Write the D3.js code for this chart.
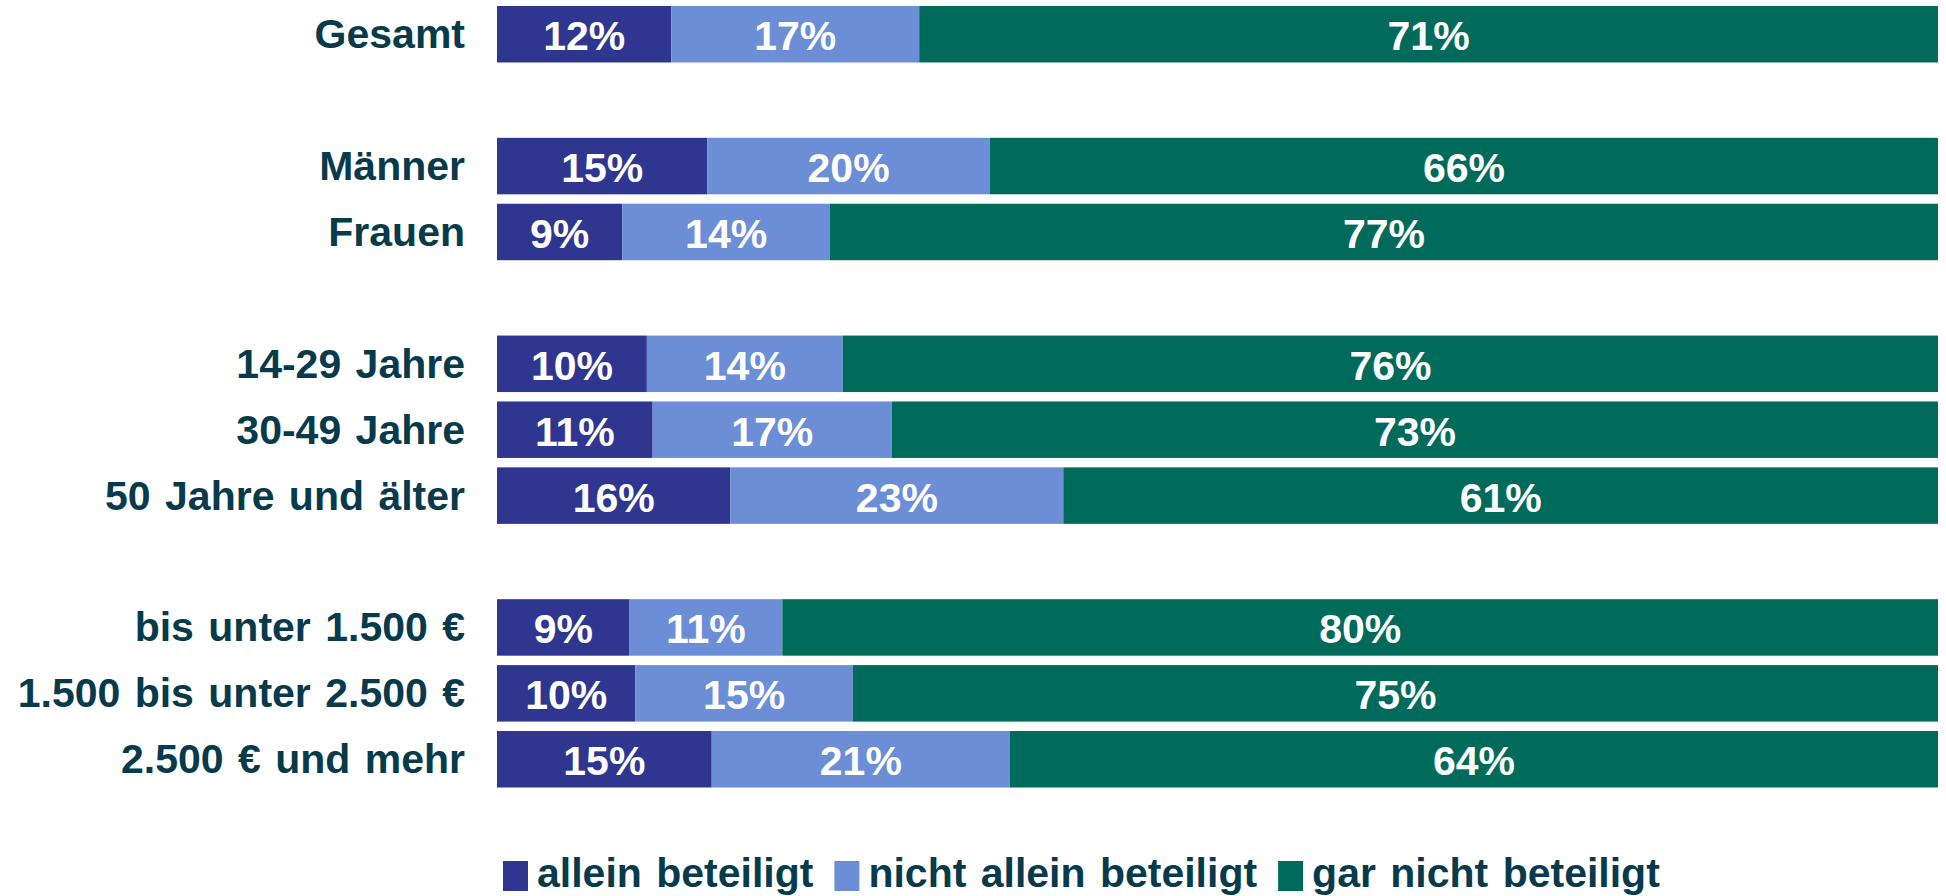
<!DOCTYPE html>
<html>
<head>
<meta charset="utf-8">
<script src="https://cdn.jsdelivr.net/npm/d3@7"></script>
<style>
  body { margin: 0; background: #fff; }
  text { font-family: "Liberation Sans", Arial, sans-serif; font-weight: bold; word-spacing: 3px; }
</style>
</head>
<body>
<div id="chart"></div>
<script>
// ----- data ----- //
var categories = ["Gesamt", "", "Männer", "Frauen", " ", "14-29 Jahre", "30-49 Jahre", "50 Jahre und älter", "  ",
    "bis unter 1.500 €", "1.500 bis unter 2.500 €", "2.500 € und mehr"]

var series = ["allein beteiligt", "nicht allein beteiligt", "gar nicht beteiligt"]
var colors = ["#2e368f", "#6b8ed6", "#006b5b"]

// null = empty spacer row
var allein      = [12.1, null, 14.6, 8.7, null, 10.4, 10.8, 16.2, null, 9.2, 9.6, 14.9]
var nichtAllein = [17.2, null, 19.6, 14.4, null, 13.6, 16.6, 23.1, null, 10.6, 15.1, 20.7]
var garNicht    = [70.7, null, 65.8, 76.9, null, 76.0, 72.6, 60.7, null, 80.2, 75.3, 64.4]

var W = 1946, H = 896
var FS = "41px"

var svg = d3.select("#chart")
    .append("svg")
    .attr("width", W)
    .attr("height", H)

// ----- scales ----- //
var y = d3.scaleBand()
    .domain(categories)
    .range([6, 787.5])
    .paddingInner(0.143)
    .paddingOuter(0)

var x = d3.scaleLinear()
    .domain([0, 100])
    .range([497, 1938])

var fmt = d3.format(".0f")

// build stacked rows
var rows = categories.map(function (c, i) {
    return { cat: c, vals: [allein[i], nichtAllein[i], garNicht[i]] }
}).filter(function (r) { return r.vals[0] !== null })

var segs = []
rows.forEach(function (r) {
    var total = d3.sum(r.vals)
    var acc = 0
    r.vals.forEach(function (v, k) {
        segs.push({ cat: r.cat, k: k, x0: acc / total * 100, x1: (acc + v) / total * 100, v: v })
        acc += v
    })
})

// ----- bars ----- //
svg.selectAll(".bar")
    .data(segs)
    .enter()
    .append("rect")
    .attr("class", "bar")
    .attr("x", function (d) { return x(d.x0) })
    .attr("y", function (d) { return y(d.cat) })
    .attr("width", function (d) { return x(d.x1) - x(d.x0) })
    .attr("height", y.bandwidth())
    .attr("fill", function (d) { return colors[d.k] })

// value labels
svg.selectAll(".val")
    .data(segs)
    .enter()
    .append("text")
    .attr("class", "val")
    .attr("x", function (d) { return (x(d.x0) + x(d.x1)) / 2 })
    .attr("y", function (d) { return y(d.cat) + y.bandwidth() / 2 + 16 })
    .attr("text-anchor", "middle")
    .attr("fill", "#fff")
    .style("font-size", FS)
    .text(function (d) { return fmt(d.v) + "%" })

// category labels
svg.selectAll(".cat")
    .data(rows)
    .enter()
    .append("text")
    .attr("class", "cat")
    .attr("x", 465)
    .attr("y", function (d) { return y(d.cat) + y.bandwidth() / 2 + 14 })
    .attr("text-anchor", "end")
    .attr("fill", "#073b4c")
    .style("font-size", FS)
    .text(function (d) { return d.cat })

// ----- legend ----- //
var legend = svg.append("g").attr("transform", "translate(503,0)")
var lx = 0
series.forEach(function (s, i) {
    legend.append("rect")
        .attr("x", lx)
        .attr("y", 861)
        .attr("width", 25)
        .attr("height", 30)
        .attr("fill", colors[i])
    var t = legend.append("text")
        .attr("x", lx + 34)
        .attr("y", 887)
        .attr("fill", "#073b4c")
        .style("font-size", FS)
        .text(s)
    lx += 34 + t.node().getComputedTextLength() + 21
})
</script>
</body>
</html>
